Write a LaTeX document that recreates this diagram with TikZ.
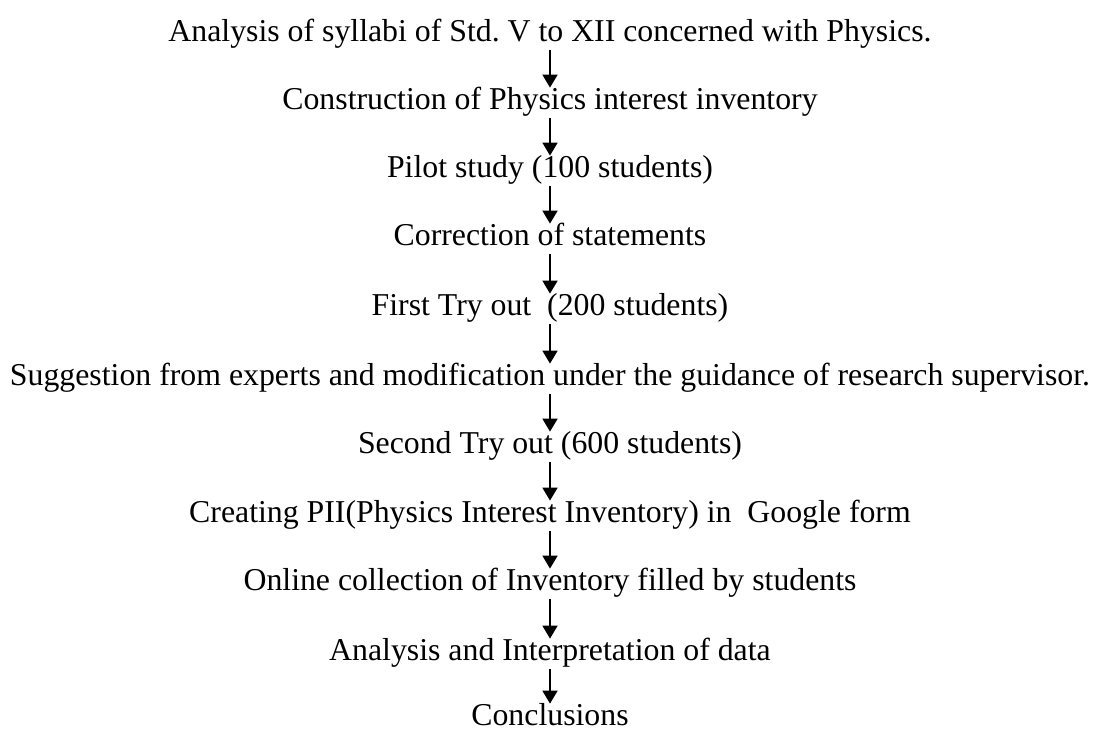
\documentclass[tikz,border=0pt]{standalone}
\usepackage{fontspec}
\setmainfont{Liberation Serif}
\usetikzlibrary{arrows.meta,positioning}

\begin{document}
\begin{tikzpicture}[
  x=0.5pt,y=-0.5pt,
  stepbox/.style={anchor=base,inner sep=0pt,text height=10.5pt,text depth=4.5pt,
                  font=\fontsize{15.9}{18}\selectfont},
  arr/.style={-{Triangle[length=6.5pt,width=7.5pt]},line width=0.9pt}
]
  \useasboundingbox (0,0) rectangle (1101,729);
  % Steps
  \node[stepbox] (syll) at (550,41) {Analysis of syllabi of Std.\ V to XII concerned with Physics.};
  \node[stepbox] (cons) at (550,109) {Construction of Physics interest inventory};
  \node[stepbox] (pilot) at (550,177) {Pilot study (100 students)};
  \node[stepbox] (corr) at (550,245) {Correction of statements};
  \node[stepbox] (try1) at (550,315) {First Try out\ \ (200 students)};
  \node[stepbox] (sugg) at (550,385) {Suggestion from experts and modification under the guidance of research supervisor.};
  \node[stepbox] (try2) at (550,453) {Second Try out (600 students)};
  \node[stepbox] (gform) at (550,522) {Creating PII(Physics Interest Inventory) in\ \ Google form};
  \node[stepbox] (online) at (550,590) {Online collection of Inventory filled by students};
  \node[stepbox] (interp) at (550,660) {Analysis and Interpretation of data};
  \node[stepbox,text depth=0pt] (concl) at (550,725) {Conclusions};
  % Arrows
  \draw[arr] (syll) -- (cons);
  \draw[arr] (cons) -- (pilot);
  \draw[arr] (pilot) -- (corr);
  \draw[arr] (corr) -- (try1);
  \draw[arr] (try1) -- (sugg);
  \draw[arr] (sugg) -- (try2);
  \draw[arr] (try2) -- (gform);
  \draw[arr] (gform) -- (online);
  \draw[arr] (online) -- (interp);
  \draw[arr] (interp) -- (concl);
\end{tikzpicture}
\end{document}
